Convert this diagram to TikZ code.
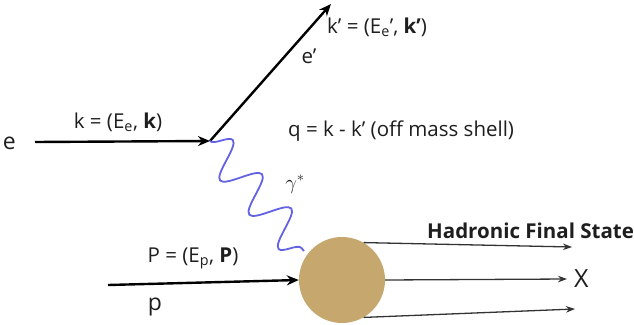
\documentclass[tikz,border=0pt]{standalone}
\usepackage{fontspec}
\setmainfont{Open Sans}
\usetikzlibrary{arrows.meta,positioning,decorations.pathmorphing}
\definecolor{photonblue}{RGB}{98,98,226}
\definecolor{blobtan}{RGB}{198,168,110}
\definecolor{textgray}{RGB}{30,30,30}

\begin{document}
\begin{tikzpicture}[
        x=1pt, y=-1pt,
        every node/.style={text=textgray, font=\fontsize{20.5}{24}\selectfont, inner sep=0pt},
        bigl/.style={font=\fontsize{23}{26}\selectfont},
        fermion/.style={-{Stealth[length=12pt, width=10pt]}, line width=2.4pt},
        hadron/.style={-{Stealth[length=9pt, width=6.5pt]}, line width=1.3pt, draw=black!80},
        photon/.style={draw=photonblue, line width=1.8pt, decorate,
            decoration={snake, segment length=45pt, amplitude=18pt}}
    ]
        \useasboundingbox (0,0) rectangle (634,324);

        % vertices and free ends
        \coordinate (ein) at (35,142);
        \coordinate (vtx) at (210,141);
        \coordinate (eout) at (331,4);
        \coordinate (pin) at (108,285);
        \node[circle, fill=blobtan, minimum size=86pt] (blob) at (342,280) {};
        \coordinate (gend) at (304,251);

        % lepton line
        \draw[fermion] (ein) -- (vtx);
        \draw[fermion] (vtx) -- (eout);
        \node[bigl, anchor=east] (elab) at (16,143) {e};
        \node (klab) at (118,122) {k = (E\textsubscript{e}, \textbf{k})};
        \node[anchor=west] (kplab) at (327,27) {k’ = (E\textsubscript{e}’, \textbf{k’})};
        \node (eplab) at (309,56) {e’};
        \node[anchor=west] (qlab) at (288,131) {q = k - k’ (off mass shell)};

        % virtual photon
        \draw[photon] (vtx) -- (gend);
        \node (glab) at (295,184) {$\gamma^{*}$};

        % proton line
        \draw[fermion] (pin) -- (blob.west);
        \node (Plab) at (193,258) {P = (E\textsubscript{p}, \textbf{P})};
        \node[bigl] (plab) at (155,307) {p};

        % hadronic final state
        \draw[hadron] (blob.60) -- (572,247);
        \draw[hadron] (blob.east) -- (567,279);
        \draw[hadron] (blob.-60) -- (575,309);
        \node[anchor=west, font=\fontsize{25}{28}\selectfont] (xlab) at (574,279) {X};
        \node[anchor=west, font=\fontsize{20.5}{24}\selectfont\bfseries] (hfs) at (427,231) {Hadronic Final State};
    \end{tikzpicture}
\end{document}
